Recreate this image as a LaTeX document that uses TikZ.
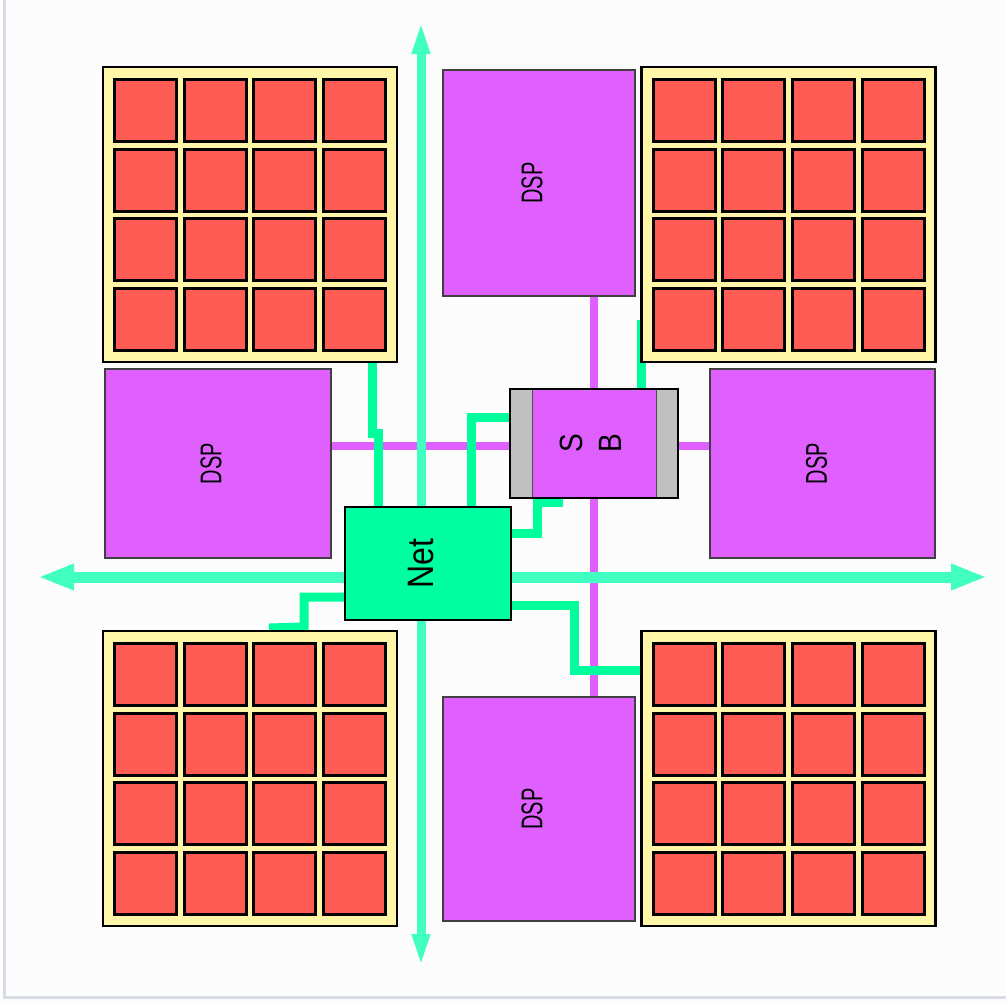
\documentclass[tikz,border=0pt]{standalone}
\usepackage{fontspec}
\setmainfont{Liberation Sans}
\usetikzlibrary{arrows.meta}
\pgfdeclarelayer{bg}
\pgfsetlayers{bg,main}
\definecolor{sqred}{RGB}{255,92,85}
\definecolor{gridyel}{RGB}{255,246,168}
\definecolor{dsppur}{RGB}{223,96,255}
\definecolor{netgrn}{RGB}{0,255,160}
\definecolor{wiregrn}{RGB}{0,255,156}
\definecolor{axisgrn}{RGB}{64,255,192}
\definecolor{capgray}{RGB}{192,192,192}
\definecolor{framegray}{RGB}{214,219,228}
\newcommand{\vlab}[3]{\rotatebox{90}{\scalebox{1}[#2]{#1}\rule[-#3]{0pt}{#3}}}
\begin{document}
\begin{tikzpicture}[x=1pt,y=-1pt,
  gridbox/.style={draw=black, line width=2.5pt, fill=gridyel, minimum width=294pt, minimum height=295pt, inner sep=0pt, outer sep=0pt},
  sqr/.style={draw=black, line width=3pt, fill=sqred},
  dspbox/.style={draw=black!75, line width=1.5pt, fill=dsppur, inner sep=0pt, outer sep=0pt, font=\fontsize{20}{24}\selectfont},
  sbbox/.style={draw=black, line width=2pt, fill=capgray, inner sep=0pt, outer sep=0pt, font=\fontsize{28}{34}\selectfont,
    path picture={\fill[dsppur] ([xshift=22pt]path picture bounding box.south west) rectangle ([xshift=-22pt]path picture bounding box.north east);
      \draw[black!70, line width=1pt] ([xshift=22pt]path picture bounding box.south west) -- ([xshift=22pt]path picture bounding box.north west)
        ([xshift=-22pt]path picture bounding box.south east) -- ([xshift=-22pt]path picture bounding box.north east);}},
  netbox/.style={draw=black, line width=2.5pt, fill=netgrn, inner sep=0pt, outer sep=0pt, font=\fontsize{32}{36}\selectfont},
  purwire/.style={draw=dsppur, line width=8pt},
  grnwire/.style={draw=wiregrn, line width=9pt},
  axisline/.style={draw=axisgrn, line width=10pt}
]
\useasboundingbox (0,0) rectangle (1006,1004);

% tile grids
\foreach \n/\cx/\cy in {gTL/250/214.5, gTR/788.5/214.5, gBL/250/778.5, gBR/788.5/778.5} {
  \node[gridbox] (\n) at (\cx,\cy) {};
  \foreach \i in {0,...,3} {
    \foreach \j in {0,...,3} {
      \draw[sqr] ([shift={(11.5+69.7*\i,12.5+69.7*\j)}]\n.north west) rectangle ++(62,62);
    }
  }
}

% DSP blocks
\node[dspbox, minimum width=192pt, minimum height=226pt] (dspT) at (539,183) {\vlab{DSP}{1.5}{14pt}};
\node[dspbox, minimum width=226pt, minimum height=189pt] (dspL) at (218,463.5) {\vlab{DSP}{1.5}{14pt}};
\node[dspbox, minimum width=225pt, minimum height=189pt] (dspR) at (822.5,463.5) {\vlab{DSP}{1.5}{12pt}};
\node[dspbox, minimum width=192pt, minimum height=224pt] (dspB) at (539,809) {\vlab{DSP}{1.5}{14pt}};

% SB and Net
\node[sbbox, minimum width=168pt, minimum height=109pt] (sb) at (594,443.5)
  {\rotatebox{90}{\scalebox{1}[1.15]{\begin{tabular}{@{}c@{}}S\\B\end{tabular}}}};
\node[netbox, minimum width=166pt, minimum height=113pt] (net) at (428,563.5) {\vlab{Net}{1.15}{14pt}};

% free ends of the axes
\coordinate (axN) at (421,20);
\coordinate (axS) at (421,968);
\coordinate (axW) at (38,577);
\coordinate (axE) at (987,577);

\begin{pgfonlayer}{bg}
  \fill[white!99!black] (0,0) rectangle (1006,1004);
  \draw[framegray, line width=3pt] (4,0) -- (4,997) -- (1006,997);

  % purple wires
  \draw[purwire] (dspL.east |- 0,446) -- (sb.west |- 0,446);
  \draw[purwire] (sb.east |- 0,446) -- (dspR.west |- 0,446);
  \draw[purwire] (sb.north |- dspT.south) -- (sb.north);
  \draw[purwire] (sb.south) -- (sb.south |- dspB.north);

  % green wires
  \draw[grnwire] (372,0 |- gTL.south) -- (372,433) -- (378,433) -- (378,0 |- net.north);
  \draw[grnwire] (sb.west |- 0,417) -- (471,417) -- (471,0 |- net.north);
  \draw[grnwire] ([yshift=-4pt]sb.south -| 563,0) -- ([yshift=-4pt]sb.south -| 537,0) -- (537,533) -- (net.east |- 0,533);
  \draw[grnwire] (net.east |- 0,605) -- (574,605) -- (574,670) -- (gBR.west |- 0,670);
  \draw[grnwire] (net.west |- 0,597) -- (304,597) -- (304,627) -- ([yshift=3pt]gBL.north -| 269,0);
  \draw[grnwire] (641,320) -- (641,0 |- sb.north);

  % axes
  \draw[axisline, line width=9pt, arrows={Triangle[length=34pt,width=16pt]-Triangle[length=34pt,width=16pt]}] (axN) -- (axS);
  \draw[axisline, line width=11pt, arrows={Triangle[length=36pt,width=24pt]-Triangle[length=36pt,width=24pt]}] (axW) -- (axE);
\end{pgfonlayer}
\end{tikzpicture}
\end{document}
